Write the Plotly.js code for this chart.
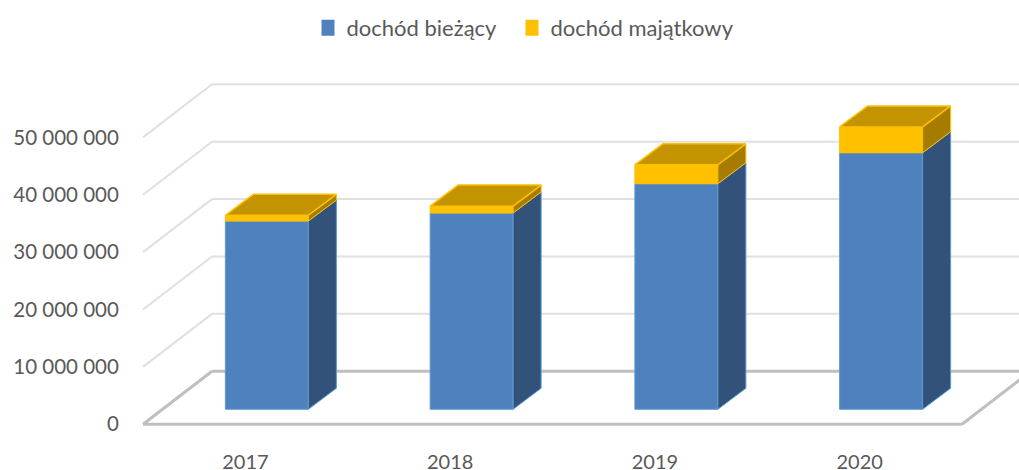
<!DOCTYPE html>
<html><head><meta charset="utf-8">
<script src="https://cdn.plot.ly/plotly-3.0.1.min.js"></script>
<style>html,body{margin:0;padding:0;background:#fff}#c{width:1019px;height:470px}</style>
</head><body><div id="c"></div>
<script>
const years = ['2017','2018','2019','2020'];
const dochodBiezacy = [32800000, 34200000, 39300000, 44700000];
const dochodMajatkowy = [1000000, 1200000, 3300000, 4500000];
const valueTicks = [0, 10000000, 20000000, 30000000, 40000000, 50000000];
const valueLabels = ['0', '10 000 000', '20 000 000', '30 000 000', '40 000 000', '50 000 000'];

// Pseudo-3D projection in axis units
const pxX = 204.75, pxY = 57.33 / 1e7;
const wallDX = 69 / pxX, wallDY = 53 / pxY;
const barOffX = 21.5 / pxX, barOffY = 15 / pxY;
const barDX = 28 / pxX, barDY = 21 / pxY;
const barW = 83 / pxX;
const xLeft = -0.5, xRight = 3.5;

const idx = years.map((_, i) => i);
const cx = idx.map(i => i + barOffX);
const totals = dochodBiezacy.map((v, i) => v + dochodMajatkowy[i]);

const font = 'Lato, Carlito, sans-serif';
const textColor = '#595959';

function face(name, xs, ys, fill, line, lw) {
  return {type:'scatter', mode:'lines', x:xs, y:ys, fill:'toself', fillcolor:fill,
    line:{color:line, width:lw}, showlegend:false, hoverinfo:'skip', name:name};
}
const traces = [];
traces.push({type:'bar', x:cx, y:dochodBiezacy, base:idx.map(()=>barOffY), width:barW, name:'dochód bieżący',
  marker:{color:'#4f81bd', line:{color:'#5b9bd5', width:1}}, showlegend:false, hoverinfo:'skip'});
traces.push({type:'bar', x:cx, y:dochodMajatkowy, base:dochodBiezacy.map(v=>v+barOffY), width:barW, name:'dochód majątkowy',
  marker:{color:'#ffc000', line:{color:'#ffc000', width:1}}, showlegend:false, hoverinfo:'skip'});
idx.forEach(i => {
  const xr = cx[i] + barW/2, xl = cx[i] - barW/2;
  const b = barOffY, m = dochodBiezacy[i] + barOffY, t = totals[i] + barOffY;
  traces.push(face('side-b', [xr, xr+barDX, xr+barDX, xr, xr], [b, b+barDY, m+barDY, m, b], '#325279', '#5b9bd5', 1));
  traces.push(face('side-m', [xr, xr+barDX, xr+barDX, xr, xr], [m, m+barDY, t+barDY, t, m], '#a67c00', '#ffc000', 1));
  traces.push(face('top-m', [xl, xl+barDX, xr+barDX, xr, xl], [t, t+barDY, t+barDY, t, t], '#c49300', '#ffc000', 1.5));
});
traces.push({type:'scatter', mode:'markers', x:[null], y:[null], name:'dochód bieżący', legend:'legend',
  marker:{symbol:'square', size:16, color:'#4f81bd'}, hoverinfo:'skip'});
traces.push({type:'scatter', mode:'markers', x:[null], y:[null], name:'dochód majątkowy', legend:'legend2',
  marker:{symbol:'square', size:16, color:'#ffc000'}, hoverinfo:'skip'});

const shapes = [];
function seg(x0, y0, x1, y1, color, w) {
  shapes.push({type:'line', xref:'x', yref:'y', x0, y0, x1, y1, layer:'below', line:{color, width:w}});
}
valueTicks.slice(1).forEach(v => {
  seg(xLeft, v, xLeft+wallDX, v+wallDY, '#e0e0e0', 2);
  seg(xLeft+wallDX, v+wallDY, xRight+wallDX, v+wallDY, '#e0e0e0', 2);
});
seg(xLeft+wallDX, wallDY, xRight+wallDX, wallDY, '#bfbfbf', 3);
seg(xLeft, 0, xLeft+wallDX, wallDY, '#bfbfbf', 3);
seg(xLeft, 0, xRight, 0, '#bfbfbf', 3);
seg(xRight, 0, xRight+wallDX, wallDY, '#bfbfbf', 3);

function legendAt(px) {
  return {orientation:'h', x:px/1019, xref:'container', xanchor:'left', y:0.985, yanchor:'top', yref:'container',
    itemwidth:30, indentation:-15, font:{family:font,size:22,color:textColor}, bgcolor:'rgba(0,0,0,0)'};
}
const layout = {
  width:1019, height:470, paper_bgcolor:'#fff', plot_bgcolor:'#fff',
  margin:{l:133, r:0, t:80, b:40.27},
  barmode:'overlay',
  font:{family:font, color:textColor, size:21},
  xaxis:{range:[xLeft-10/pxX, xLeft+876/pxX], tickvals:idx, ticktext:years, showgrid:false, zeroline:false, showline:false,
    ticks:'outside', ticklen:14, tickcolor:'rgba(0,0,0,0)', fixedrange:true, tickfont:{family:font,size:20,color:textColor}},
  yaxis:{range:[-1e6, 60e6], tickvals:valueTicks, ticktext:valueLabels, showgrid:false, zeroline:false, showline:false,
    ticks:'outside', ticklen:9, ticklabelshift:1.5, tickcolor:'rgba(0,0,0,0)', fixedrange:true, tickfont:{family:font,size:20.5,color:textColor}},
  legend:legendAt(321.5),
  legend2:legendAt(525.5),
  shapes
};
Plotly.newPlot('c', traces, layout, {displayModeBar:false, responsive:false});
</script>
</body></html>
